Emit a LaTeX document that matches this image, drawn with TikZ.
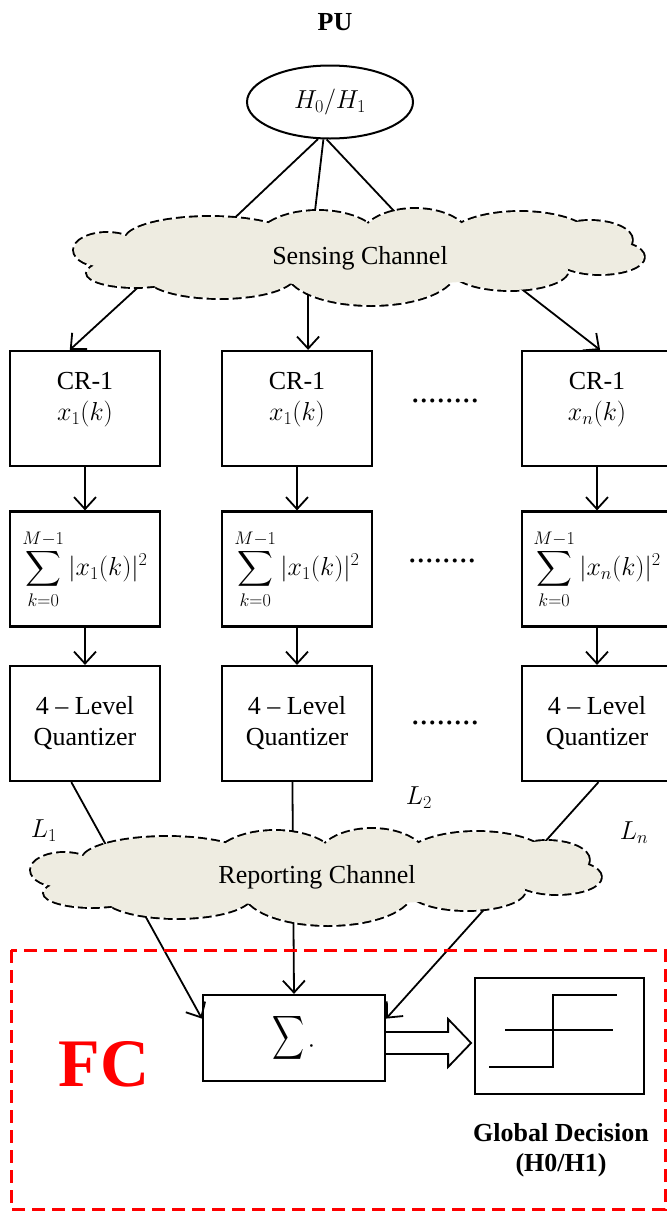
\RequirePackage{fix-cm}
\documentclass[tikz,border=0pt]{standalone}
\usepackage{exscale}
\usepackage{fontspec}
\setmainfont{Liberation Serif}
\usetikzlibrary{shapes.geometric,arrows.meta,calc}
\definecolor{cloudbg}{HTML}{EEECE1}
\tikzset{
  box/.style={draw, line width=2.2pt, minimum width=150pt, minimum height=115pt, inner sep=0pt,
    font=\fontsize{26}{31}\selectfont, align=center},
  ln/.style={line width=1.8pt},
  arr/.style={line width=1.8pt, -{Straight Barb[length=12pt,width=22pt,line width=1.8pt]}},
  cloudline/.style={draw=black, line width=3.8pt, dash pattern=on 9pt off 4pt},
  txt/.style={font=\fontsize{26}{31}\selectfont, inner sep=0pt},
  dotsnode/.style={font=\fontsize{34}{36}\selectfont, inner sep=0pt},
}
% lobes of a cloud (in pixel units, sensing-cloud position)
\newcommand{\mycloudlobes}{%
  (107,250) ellipse [x radius=33pt, y radius=17pt]
  (135,273) ellipse [x radius=48pt, y radius=14pt]
  (210,240) ellipse [x radius=85pt, y radius=23pt]
  (318,242) ellipse [x radius=62pt, y radius=31pt]
  (415,240) ellipse [x radius=55pt, y radius=31pt]
  (520,242) ellipse [x radius=75pt, y radius=30pt]
  (590,240) ellipse [x radius=42pt, y radius=19pt]
  (600,257) ellipse [x radius=44pt, y radius=17pt]
  (510,270) ellipse [x radius=58pt, y radius=20pt]
  (371,271) ellipse [x radius=84pt, y radius=34pt]
  (220,275) ellipse [x radius=75pt, y radius=23pt]}
\newcommand{\mycloudcore}{(360,255) ellipse [x radius=230pt, y radius=30pt]}
\begin{document}
\begin{tikzpicture}[x=1pt,y=-1pt]
\useasboundingbox (0,0) rectangle (667,1211);

% PU
\node[txt, font=\fontsize{26}{31}\selectfont\bfseries] (pulabel) at (335,22) {PU};
\node[ellipse, draw, line width=2pt, minimum width=166pt, minimum height=73pt, inner sep=0pt,
  font=\fontsize{26}{31}\selectfont] (pu) at (330,102) {$H_0/H_1$};

% CR boxes
\node[box] (cr1) at (85,408.5) {\begin{tabular}{@{}c@{}}CR-1\\$x_1(k)$\\[20pt]\end{tabular}};
\node[box] (cr2) at (297,408.5) {\begin{tabular}{@{}c@{}}CR-1\\$x_1(k)$\\[20pt]\end{tabular}};
\node[box] (cr3) at (597,408.5) {\begin{tabular}{@{}c@{}}CR-1\\$x_n(k)$\\[20pt]\end{tabular}};

% energy boxes
\node[box] (e1) at (85,569) {$\displaystyle\sum_{k=0}^{M-1}|x_1(k)|^2$};
\node[box] (e2) at (297,569) {$\displaystyle\sum_{k=0}^{M-1}|x_1(k)|^2$};
\node[box] (e3) at (597,569) {$\displaystyle\sum_{k=0}^{M-1}|x_n(k)|^2$};

% quantizers
\node[box] (q1) at (85,723.5) {4 -- Level\\Quantizer};
\node[box] (q2) at (297,723.5) {4 -- Level\\Quantizer};
\node[box] (q3) at (597,723.5) {4 -- Level\\Quantizer};

% dots
\node[dotsnode] (d1) at (445,401) {........};
\node[dotsnode] (d2) at (442,561) {........};
\node[dotsnode] (d3) at (445,723) {........};

% FC
\node[draw, line width=2.2pt, minimum width=182pt, minimum height=86pt, inner sep=0pt,
  font=\fontsize{26}{31}\selectfont]
  (sum) at (294,1038) {\resizebox*{32pt}{49pt}{$\displaystyle\sum$}\kern3pt\raisebox{-6pt}{$\cdot$}};
\node[draw, line width=2.2pt, minimum width=169pt, minimum height=116pt, inner sep=0pt]
  (dec) at (559.5,1036) {};
\draw[line width=1.2pt] ($(dec.center)+(-54.5,-6)$) -- ++(108,0);
\draw[line width=2.4pt] ($(dec.center)+(-70.5,31)$) -- ++(64,0) -- ++(0,-72) -- ++(64,0);
\draw[line width=1.8pt, fill=white] ($(sum.east)+(0,-6)$) -- ++(62,0) -- ++(0,-13) -- ++(23,24)
  -- ++(-23,24) -- ++(0,-13) -- ++(-62,0);
\node[txt, font=\fontsize{26}{30}\selectfont\bfseries, align=center] (gd) at (561,1150)
  {Global Decision\\(H0/H1)};
\node[text=red, inner sep=0pt, font=\fontsize{68}{70}\selectfont\bfseries] (fc) at (104,1064) {FC};

% coordinates inside the clouds (connector ends hidden under the cloud fill)
\coordinate (s1) at (224,228);
\coordinate (s2) at (313,228);
\coordinate (s3) at (410,228);
\coordinate (c1) at (146,280);
\coordinate (c2) at (308,288);
\coordinate (c3) at (510,280);

% connectors PU -> sensing cloud
\draw[ln] (pu.-108) -- (s1);
\draw[ln] (pu.-100) -- (s2);
\draw[ln] (pu.-95) -- (s3);
% sensing cloud -> CR
\draw[arr] (c1) -- ($(cr1.north west)!0.4!(cr1.north east)$);
\draw[arr] (c2) -- ($(cr2.north west)!0.573!(cr2.north east)$);
\draw[arr] (c3) -- ($(cr3.north west)!0.52!(cr3.north east)$);
% vertical chains
\draw[arr] (cr1.south) -- (e1.north);
\draw[arr] (cr2.south) -- (e2.north);
\draw[arr] (cr3.south) -- (e3.north);
\draw[arr] (e1.south) -- (q1.north);
\draw[arr] (e2.south) -- (q2.north);
\draw[arr] (e3.south) -- (q3.north);
% quantizers -> sum (passing under the reporting cloud)
\draw[arr] ($(q1.south west)!0.41!(q1.south east)$) -- ($(sum.north west)!0.28!(sum.south west)$);
\draw[arr] ($(q2.south west)!0.47!(q2.south east)$) -- (sum.north);
\draw[arr] ($(q3.south west)!0.51!(q3.south east)$) -- ($(sum.north east)!0.28!(sum.south east)$);

% sensing cloud
\path[cloudline] \mycloudlobes;
\path[fill=cloudbg] \mycloudlobes \mycloudcore;
\node[txt] (sc) at (360,258) {Sensing Channel};
% reporting cloud
\begin{scope}[shift={(-43,620)}]
  \path[cloudline] \mycloudlobes;
  \path[fill=cloudbg] \mycloudlobes \mycloudcore;
\end{scope}
\node[txt] (rc) at (317,877) {Reporting Channel};

% link labels
\node[txt] (l1) at (44,831) {$L_1$};
\node[txt] (l2) at (419,798) {$L_2$};
\node[txt] (ln) at (634,833) {$L_n$};

% FC frame
\draw[red, line width=3pt, dash pattern=on 13pt off 7pt] (11,950) rectangle (665,1209);
\end{tikzpicture}
\end{document}
